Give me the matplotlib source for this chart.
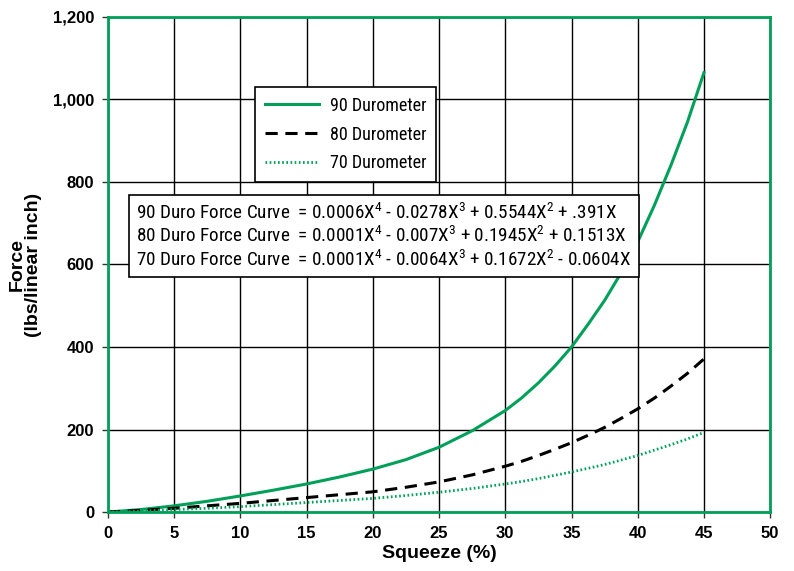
import matplotlib
matplotlib.use("Agg")
import matplotlib.pyplot as plt
from matplotlib.ticker import FuncFormatter

# values
squeeze = [0, 2.5, 5, 7.5, 10, 12.5, 15, 17.5, 20, 22.5, 25, 27.5, 30,
           31.25, 32.5, 33.75, 35, 36.25, 37.5, 38.75, 40, 41.25, 42.5, 43.75, 45]
duro90 = [0, 6, 15, 26, 39, 53, 68, 85, 104, 127, 157, 197, 246,
          277, 313, 354, 400, 455, 513, 580, 655, 743, 840, 945, 1065]
duro80 = [0, 4, 9, 15, 21, 28, 35, 42, 49, 60, 73, 90, 111,
          123, 137, 152, 168, 186, 205, 227, 250, 276, 305, 336, 371]
duro70 = [0, 2, 6, 9, 13, 18, 23, 28, 33, 40, 48, 57, 68,
          74, 81, 89, 97, 106, 115, 126, 137, 150, 163, 177, 193]

labels = ["90 Durometer", "80 Durometer", "70 Durometer"]
equations = [
    "90 Duro Force Curve  = 0.0006X$^4$ - 0.0278X$^3$ + 0.5544X$^2$ + .391X",
    "80 Duro Force Curve  = 0.0001X$^4$ - 0.007X$^3$ + 0.1945X$^2$ + 0.1513X",
    "70 Duro Force Curve  = 0.0001X$^4$ - 0.0064X$^3$ + 0.1672X$^2$ - 0.0604X",
]

green = "#00A05A"
narrow = ["Roboto Condensed", "DejaVu Sans"]
plt.rcParams["font.family"] = ["Liberation Sans", "DejaVu Sans"]
plt.rcParams["mathtext.default"] = "regular"

fig = plt.figure(figsize=(7.94, 5.71), dpi=100)
ax = fig.add_axes([0.136, 0.1033, 0.834, 0.867])

ax.plot(squeeze, duro90, color=green, lw=2.2, label=labels[0])
ax.plot(squeeze, duro80, color="black", lw=2.2, ls=(0, (4, 2.5)), label=labels[1])
ax.plot(squeeze, duro70, color=green, lw=2.0, ls=(0, (0.6, 0.9)), label=labels[2])

ax.set_xlim(0, 50)
ax.set_ylim(0, 1200)
ax.set_xticks(range(0, 51, 5))
ax.set_yticks(range(0, 1201, 200))
ax.yaxis.set_major_formatter(FuncFormatter(lambda v, p: f"{int(v):,}"))
ax.grid(True, color="black", lw=1.0)
ax.set_axisbelow(True)
for s in ax.spines.values():
    s.set_color(green)
    s.set_linewidth(2)
ax.tick_params(direction="out", length=4, width=1, color="#333333", pad=6)
for t in ax.get_xticklabels() + ax.get_yticklabels():
    t.set_fontweight("bold")
    t.set_fontsize(12)

ax.set_xlabel("Squeeze (%)", fontsize=14, fontweight="bold", labelpad=3)
ax.set_ylabel("Force\n(lbs/linear inch)", fontsize=14, fontweight="bold", labelpad=8, linespacing=0.95)

leg = ax.legend(loc="upper left", bbox_to_anchor=(0.222, 0.859), borderaxespad=0,
                fancybox=False, edgecolor="black", framealpha=1,
                prop={"family": narrow, "size": 13}, handlelength=3.0,
                labelspacing=0.6, borderpad=0.55, handletextpad=0.6)
leg.get_frame().set_linewidth(1.2)

ax.text(0.043, 0.557, "\n".join(equations), transform=ax.transAxes,
        family=narrow, fontsize=13.8, va="center", ha="left", linespacing=1.2,
        bbox=dict(boxstyle="square,pad=0.4", fc="white", ec="black", lw=1.2))

fig.savefig("out.png", dpi=100)
